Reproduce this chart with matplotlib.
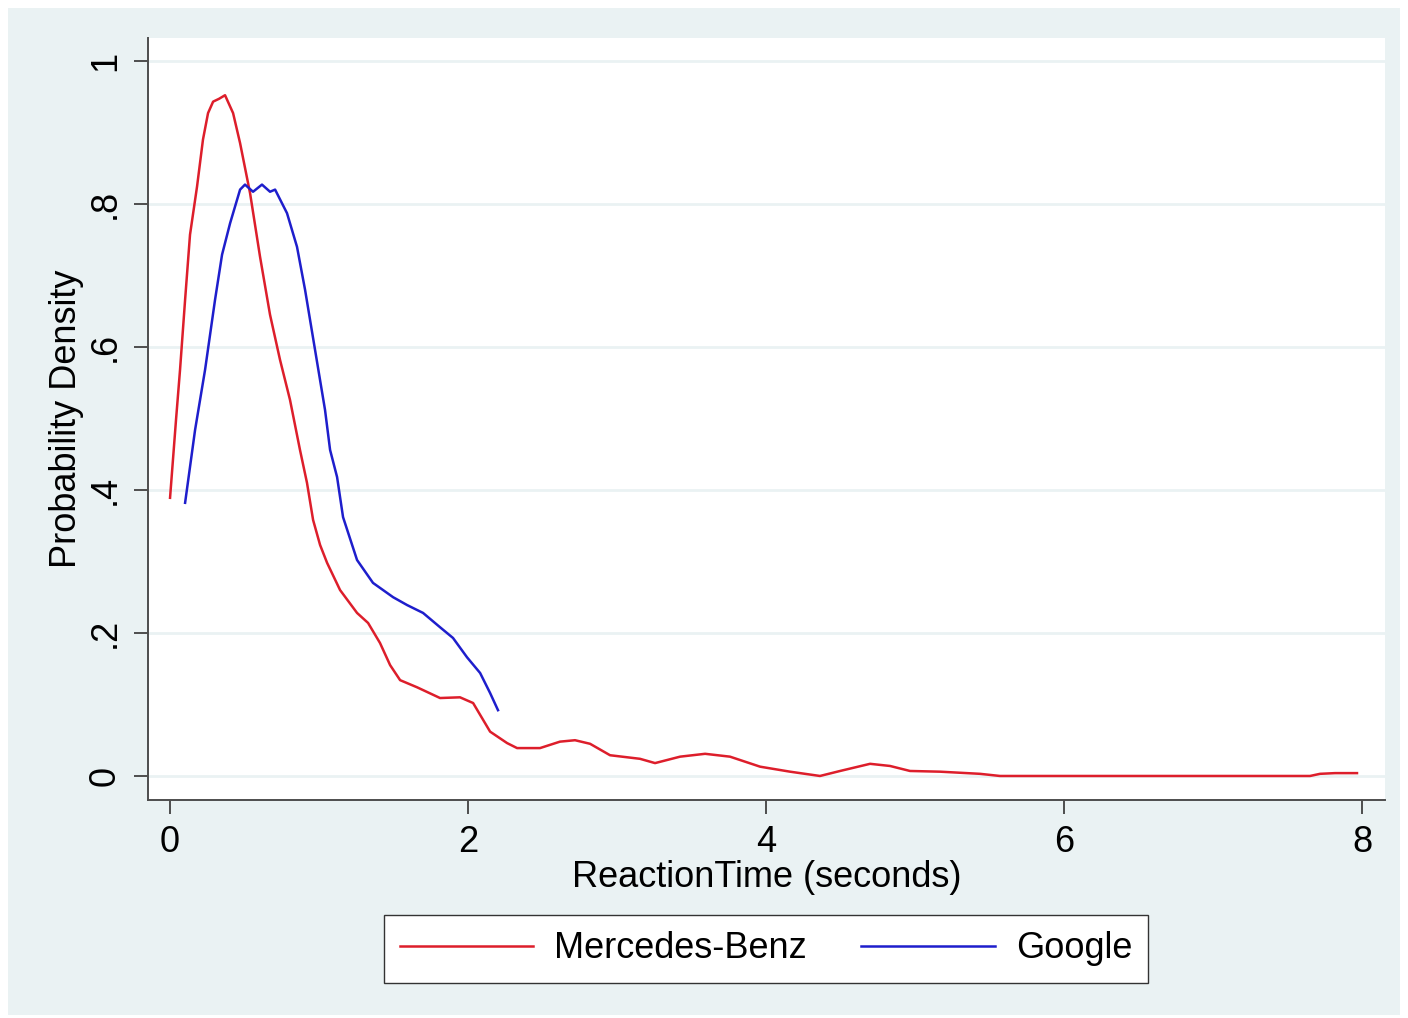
import matplotlib.pyplot as plt
from matplotlib.patches import Rectangle

plt.rcParams['font.family'] = ['Liberation Sans', 'DejaVu Sans']

# reaction time densities
benz_x = [0.0, 0.040, 0.067, 0.101, 0.134, 0.181, 0.221, 0.255, 0.289, 0.329,
          0.369, 0.423, 0.470, 0.537, 0.604, 0.671, 0.738, 0.805, 0.872, 0.919,
          0.960, 1.007, 1.054, 1.141, 1.255, 1.329, 1.409, 1.477, 1.544, 1.658,
          1.812, 1.946, 2.034, 2.148, 2.262, 2.329, 2.483, 2.617, 2.718, 2.819,
          2.953, 3.154, 3.255, 3.423, 3.591, 3.758, 3.960, 4.161, 4.362, 4.497,
          4.698, 4.832, 4.966, 5.168, 5.436, 5.570, 7.651, 7.718, 7.819, 7.966]
benz_y = [0.389, 0.498, 0.568, 0.666, 0.757, 0.824, 0.890, 0.927, 0.943, 0.947,
          0.952, 0.927, 0.885, 0.815, 0.726, 0.645, 0.582, 0.526, 0.456, 0.410,
          0.358, 0.323, 0.298, 0.260, 0.228, 0.214, 0.186, 0.155, 0.134, 0.124,
          0.109, 0.110, 0.102, 0.062, 0.046, 0.039, 0.039, 0.048, 0.050, 0.045,
          0.029, 0.024, 0.018, 0.027, 0.031, 0.027, 0.013, 0.006, 0.000, 0.007,
          0.017, 0.014, 0.007, 0.006, 0.003, 0.000, 0.000, 0.003, 0.004, 0.004]

google_x = [0.101, 0.168, 0.235, 0.302, 0.349, 0.403, 0.470, 0.503, 0.557, 0.617,
            0.671, 0.705, 0.785, 0.852, 0.906, 0.973, 1.040, 1.074, 1.121, 1.161,
            1.255, 1.362, 1.497, 1.591, 1.698, 1.812, 1.899, 1.993, 2.081, 2.148,
            2.201]
google_y = [0.382, 0.484, 0.568, 0.666, 0.729, 0.773, 0.820, 0.827, 0.817, 0.827,
            0.817, 0.820, 0.787, 0.740, 0.680, 0.596, 0.512, 0.456, 0.418, 0.362,
            0.302, 0.270, 0.250, 0.239, 0.228, 0.208, 0.193, 0.166, 0.144, 0.116,
            0.092]

x_ticks = [0, 2, 4, 6, 8]
y_ticks = [0, 0.2, 0.4, 0.6, 0.8, 1.0]
y_labels = ['0', '.2', '.4', '.6', '.8', '1']

bg = '#EAF2F3'
W, H = 1408, 1018
fs = 26

fig = plt.figure(figsize=(W / 100, H / 100), dpi=100, facecolor='white')
fig.patches.append(Rectangle((8 / W, 3 / H), 1392 / W, 1007 / H,
                             transform=fig.transFigure, facecolor=bg,
                             edgecolor='none', zorder=-10))

ax = fig.add_axes([148 / W, 1 - 800 / H, 1237 / W, 762 / H])
ax.set_facecolor('white')
ax.plot(benz_x, benz_y, color='#DD1E2B', lw=1.8, label='Mercedes-Benz')
ax.plot(google_x, google_y, color='#1E1ECC', lw=1.8, label='Google')

ax.set_xlim(-0.148, 8.154)
ax.set_ylim(-0.0336, 1.032)
ax.set_xticks(x_ticks)
ax.set_yticks(y_ticks)
ax.set_yticklabels(y_labels, rotation=90, va='center')
ax.grid(axis='y', color=bg, lw=2)
ax.set_axisbelow(True)

for s in ['top', 'right']:
    ax.spines[s].set_visible(False)
for s in ['left', 'bottom']:
    ax.spines[s].set_color('#4d4d4d')
    ax.spines[s].set_linewidth(1.4)
ax.tick_params(axis='both', direction='out', length=10, width=1.4,
               color='#4d4d4d', labelsize=fs, pad=8)

ax.set_xlabel('ReactionTime (seconds)', fontsize=fs, labelpad=0)
ax.set_ylabel('Probability Density', fontsize=fs, labelpad=3)

fig.legend(loc='center', bbox_to_anchor=(766 / W, 1 - 949 / H), ncol=2,
           fontsize=fs, handlelength=3.7, handletextpad=0.58,
           columnspacing=1.5, fancybox=False, framealpha=1,
           edgecolor='#333333', borderpad=0.45)

fig.savefig('out.png', dpi=100, facecolor='white')
